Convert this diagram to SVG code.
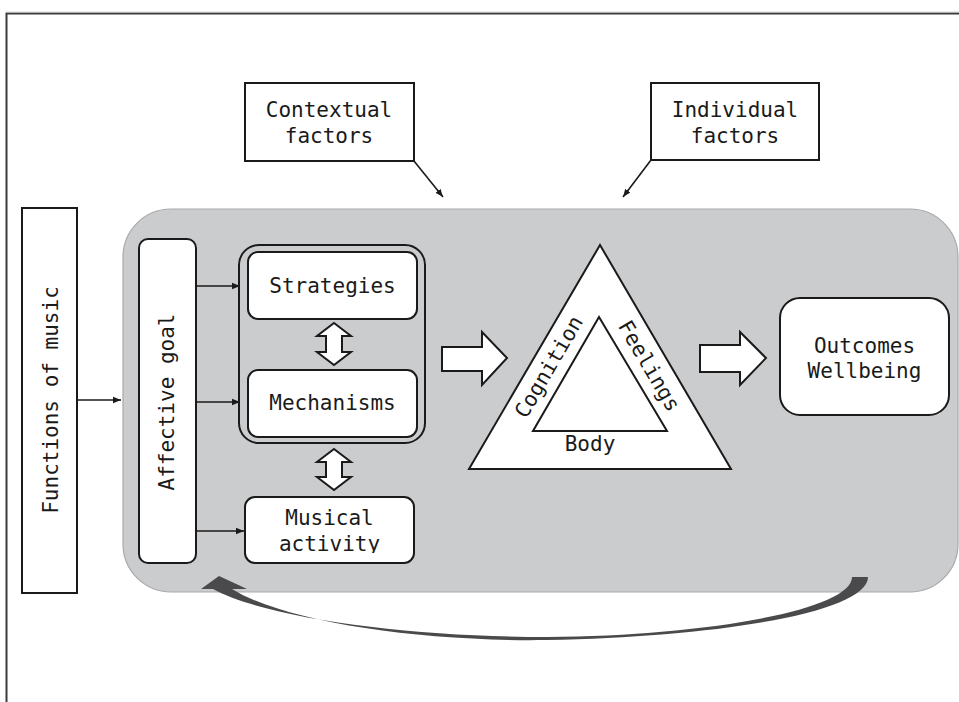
<svg xmlns="http://www.w3.org/2000/svg" width="959" height="702" viewBox="0 0 959 702">
<defs>
<style>
.t{font-family:"DejaVu Sans Mono","Liberation Mono",monospace;font-size:21px;fill:#1a1a1a;text-anchor:middle}
.box{fill:#fff;stroke:#1a1a1a;stroke-width:2}
.thin{fill:none;stroke:#1a1a1a;stroke-width:1.6;marker-end:url(#ah)}
.hollow{fill:#fff;stroke:#1a1a1a;stroke-width:2;stroke-linejoin:miter}
</style>
<marker id="ah" viewBox="0 0 10 10" refX="10" refY="5" markerWidth="8" markerHeight="8" markerUnits="userSpaceOnUse" orient="auto">
<path d="M0,1 L10,5 L0,9 Z" fill="#1a1a1a"/>
</marker>
<clipPath id="mclip"><rect x="240" y="490" width="180" height="63"/></clipPath>
</defs>
<rect width="959" height="702" fill="#fff"/>
<path d="M6.5,702 V13.5 H959" fill="none" stroke="#3a3a3a" stroke-width="2"/>
<path d="M6,12.2 H959" stroke="#bbb" stroke-width="1"/>

<g id="panel">
<rect x="123" y="209" width="835" height="383" rx="48" ry="48" fill="#cbccce" stroke="#a9a9ab" stroke-width="1.2"/>
</g>

<g id="contextual">
<rect class="box" x="245" y="83" width="169" height="78"/>
<text class="t" x="329" y="117">Contextual</text>
<text class="t" x="329" y="143">factors</text>
</g>
<g id="individual">
<rect class="box" x="651" y="83" width="168" height="77"/>
<text class="t" x="735" y="117">Individual</text>
<text class="t" x="735" y="143">factors</text>
</g>

<g id="functions">
<rect class="box" x="22" y="208" width="55" height="385"/>
<text class="t" transform="translate(58,400) rotate(-90)">Functions of music</text>
</g>

<g id="affective">
<rect class="box" x="139" y="239" width="57" height="324" rx="9"/>
<text class="t" transform="translate(174,402) rotate(-90)">Affective goal</text>
</g>

<g id="group">
<rect x="239" y="245" width="186" height="198" rx="20" fill="none" stroke="#1a1a1a" stroke-width="2"/>
</g>
<g id="strategies">
<rect class="box" x="248" y="252" width="169" height="67" rx="10"/>
<text class="t" x="332.5" y="293">Strategies</text>
</g>
<g id="mechanisms">
<rect class="box" x="248" y="370" width="169" height="67" rx="10"/>
<text class="t" x="332.5" y="410">Mechanisms</text>
</g>
<g id="musical">
<rect class="box" x="245" y="497" width="169" height="66" rx="10"/>
<text class="t" x="329.5" y="525">Musical</text>
<text class="t" x="329.5" y="551" clip-path="url(#mclip)">activity</text>
</g>

<g id="triangle">
<polygon points="600,245 731,469 469,469" fill="#fff" stroke="#1a1a1a" stroke-width="2"/>
<polygon points="599,317 667,431 533,431" fill="#fff" stroke="#1a1a1a" stroke-width="2"/>
<text class="t" transform="translate(555,370.5) rotate(-59.7)">Cognition</text>
<text class="t" transform="translate(643,369.5) rotate(59.7)">Feelings</text>
<text class="t" x="590" y="451">Body</text>
</g>

<g id="outcomes">
<rect class="box" x="780" y="298" width="169" height="117" rx="20"/>
<text class="t" x="864.5" y="353">Outcomes</text>
<text class="t" x="864.5" y="378">Wellbeing</text>
</g>

<g id="connectors">
<line class="thin" x1="414" y1="161" x2="443" y2="197"/>
<line class="thin" x1="651" y1="160" x2="623" y2="197"/>
<line class="thin" x1="77" y1="400" x2="121" y2="400"/>
<line class="thin" x1="196" y1="286" x2="240" y2="286"/>
<line class="thin" x1="196" y1="402" x2="240" y2="402"/>
<line class="thin" x1="196" y1="531" x2="244" y2="531"/>
<polygon class="hollow" points="334,323 351,336 342,336 342,352 351,352 334,365 317,352 326,352 326,336 317,336"/>
<polygon class="hollow" points="334,449 351,462 342,462 342,477 351,477 334,490 317,477 326,477 326,462 317,462"/>
<polygon class="hollow" points="442,347 482,347 482,332 507,358 482,385 482,371 442,371"/>
<polygon class="hollow" points="700,345 740,345 740,332 766,358 740,385 740,372 700,372"/>
<path d="M852,577 H868 C868,612 720,637 547,640 C420,642 285,622 232,589 L247,589 L219,576 L201,589 L213,589 C270,620 420,637 547,637 C705,636 852,610 852,577 Z" fill="#4a4a4c"/>
</g>
</svg>
